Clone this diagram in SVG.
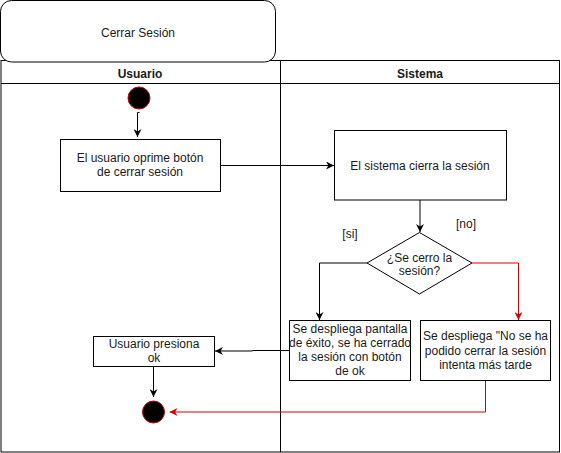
<svg xmlns="http://www.w3.org/2000/svg" width="561" height="453" viewBox="0 0 561 453">
<style>
text{font-family:"Liberation Sans",Arial,sans-serif;font-size:12px;fill:#1a1a1a;text-anchor:middle}
.b{font-weight:bold}
.box{fill:#fff;stroke:#000;stroke-width:1}
.ln{fill:none;stroke:#000;stroke-width:1}
.rd{fill:none;stroke:#d40000;stroke-width:1}
.dot{fill:#000;stroke:#d40000;stroke-width:1}
</style>
<defs>
<marker id="ab" viewBox="0 0 10 10" refX="10" refY="5" markerWidth="8" markerHeight="8" markerUnits="userSpaceOnUse" orient="auto"><path d="M0,0 L10,5 L0,10 L3,5 z" fill="#000"/></marker>
<marker id="ar" viewBox="0 0 10 10" refX="10" refY="5" markerWidth="8" markerHeight="8" markerUnits="userSpaceOnUse" orient="auto"><path d="M0,0 L10,5 L0,10 L3,5 z" fill="#d40000"/></marker>
</defs>
<rect width="561" height="453" fill="#fff"/>
<g id="pool">
<rect class="box" x="1" y="60.5" width="558.5" height="391.5"/>
<line class="ln" x1="1" y1="83.5" x2="559.5" y2="83.5"/>
<line class="ln" x1="280.5" y1="60.5" x2="280.5" y2="452"/>
<text class="b" x="140" y="77.5">Usuario</text>
<text class="b" x="420" y="77.5">Sistema</text>
</g>
<g id="title">
<rect class="box" x="0.5" y="0.5" width="275" height="61.5" rx="11" ry="11"/>
<text x="138" y="36.5">Cerrar Sesión</text>
</g>
<g id="connectors">
<path class="ln" d="M139.5 112.5 H137.5 V137" marker-end="url(#ab)"/>
<path class="ln" d="M220.5 165.5 H334" marker-end="url(#ab)"/>
<path class="ln" d="M420 200 V232" marker-end="url(#ab)"/>
<path class="ln" d="M367 263 H319.5 V320" marker-end="url(#ab)"/>
<path class="rd" d="M472 263 H518.5 V320" marker-end="url(#ar)"/>
<path class="ln" d="M289 350.5 H252.5 V351 H215" marker-end="url(#ab)"/>
<path class="ln" d="M153.5 367 V397" marker-end="url(#ab)"/>
<path class="rd" d="M485.5 380.5 V412 H169.5" marker-end="url(#ar)"/>
</g>
<g id="start"><circle class="dot" cx="139" cy="98" r="11"/></g>
<g id="n1">
<rect class="box" x="60.5" y="139.5" width="160" height="52"/>
<text x="140" y="161.5">El usuario oprime botón</text>
<text x="140" y="175.5">de cerrar sesión</text>
</g>
<g id="n2">
<rect class="box" x="334.5" y="130.5" width="172" height="69.5"/>
<text x="420" y="170">El sistema cierra la sesión</text>
</g>
<g id="decision">
<polygon class="box" points="419.5,232.5 472,263 419.5,294 367,263"/>
<text x="419.5" y="261.5">¿Se cerro la</text>
<text x="419.5" y="275">sesión?</text>
<text x="350" y="237.5">[si]</text>
<text x="466" y="227.5">[no]</text>
</g>
<g id="n3">
<rect class="box" x="289.5" y="320.5" width="121" height="60"/>
<text x="350" y="332.5">Se despliega pantalla</text>
<text x="350" y="347">de éxito, se ha cerrado</text>
<text x="350" y="361">la sesión con botón</text>
<text x="350" y="375">de ok</text>
</g>
<g id="n4">
<rect class="box" x="420.5" y="320.5" width="130" height="60"/>
<text x="485.5" y="340">Se despliega "No se ha</text>
<text x="485.5" y="354.5">podido cerrar la sesión</text>
<text x="485.5" y="368.5">intenta más tarde</text>
</g>
<g id="n5">
<rect class="box" x="93.5" y="336.5" width="121" height="30"/>
<text x="154" y="348">Usuario presiona</text>
<text x="154" y="362">ok</text>
</g>
<g id="end"><circle class="dot" cx="153.5" cy="412" r="11"/></g>
</svg>
